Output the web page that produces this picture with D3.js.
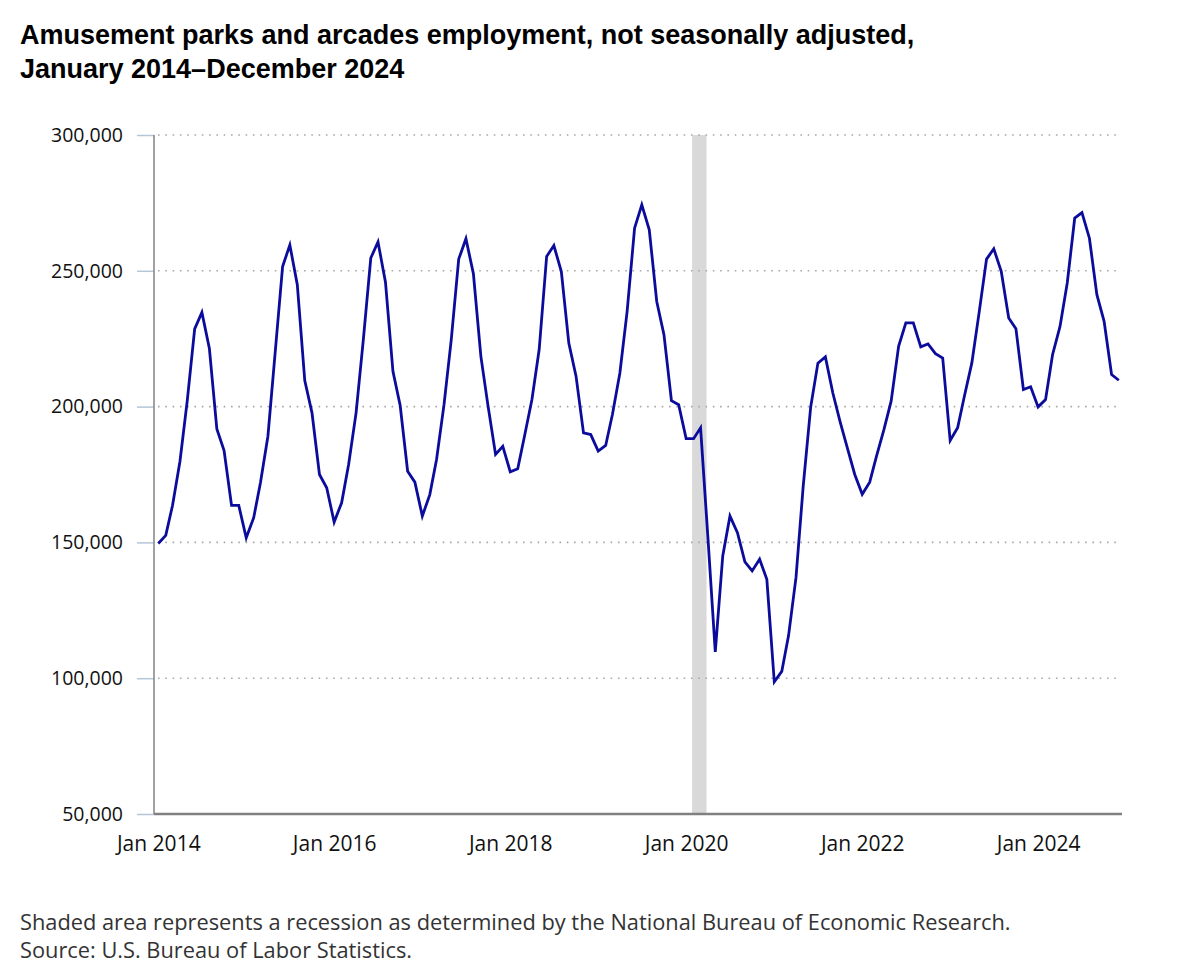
<!DOCTYPE html>
<html>
<head>
<meta charset="utf-8">
<script src="https://cdn.jsdelivr.net/npm/d3@7"></script>
<style>
  html, body { margin: 0; padding: 0; background: #fff; }
  svg { display: block; }
</style>
</head>
<body>
<svg id="chart" width="1200" height="968"></svg>
<script>
// ---- Data (thousands of jobs, monthly, Jan 2014 – Dec 2024) ----
const startYear = 2014;
const values2014 = [149.6, 152.6, 163.6, 179.9, 202.0, 228.6, 234.7, 221.4, 191.8, 183.8, 163.6, 163.6];
const values2015 = [151.7, 159.1, 172.0, 189.1, 219.8, 251.6, 259.5, 244.9, 209.6, 197.7, 175.0, 170.1];
const values2016 = [157.5, 164.6, 178.7, 197.7, 224.6, 254.7, 260.6, 245.8, 213.0, 200.4, 176.2, 172.2];
const values2017 = [159.7, 167.6, 180.5, 200.7, 224.6, 254.3, 261.8, 248.9, 218.5, 200.1, 182.4, 185.4];
const values2018 = [176.0, 177.1, 189.1, 202.6, 221.0, 255.3, 259.3, 249.7, 223.4, 211.2, 190.3, 189.7];
const values2019 = [183.6, 185.7, 197.1, 212.4, 235.0, 265.7, 274.3, 265.1, 238.7, 226.5, 202.2, 200.7];
const values2020 = [188.2, 188.2, 192.2, 151.0, 109.7, 145.0, 159.7, 153.6, 142.8, 139.5, 143.8, 136.4];
const values2021 = [98.7, 102.5, 115.6, 137.0, 170.7, 199.8, 216.0, 218.3, 205.0, 194.5, 184.5, 175.0];
const values2022 = [167.7, 172.2, 181.7, 191.5, 202.0, 222.2, 230.8, 230.8, 222.0, 223.1, 219.5, 217.9];
const values2023 = [187.5, 192.2, 203.8, 216.1, 234.5, 254.3, 258.1, 249.8, 232.6, 228.7, 206.3, 207.3];
const values2024 = [199.9, 202.6, 219.1, 229.5, 245.5, 269.4, 271.4, 262.0, 241.2, 231.4, 211.8, 209.7];

const yTicks = [50000, 100000, 150000, 200000, 250000, 300000];
const xTickYears = [2014, 2016, 2018, 2020, 2022, 2024];
const recession = [new Date(2020, 1, 1), new Date(2020, 3, 1)];

const titleLines = [
  "Amusement parks and arcades employment, not seasonally adjusted,",
  "January 2014\u2013December 2024"
];
const noteLines = [
  "Shaded area represents a recession as determined by the National Bureau of Economic Research.",
  "Source: U.S. Bureau of Labor Statistics."
];

// ---- Build series ----
const allYears = [values2014, values2015, values2016, values2017, values2018, values2019,
                  values2020, values2021, values2022, values2023, values2024];
const series = [];
allYears.forEach((arr, yi) => {
  arr.forEach((v, m) => series.push({ date: new Date(startYear + yi, m, 1), value: v * 1000 }));
});

// ---- Layout ----
const svg = d3.select("#chart");
const axisX = 154, plotRight = 1121, plotTop = 135, plotBottom = 814;

const x = d3.scaleTime()
  .domain([new Date(2014, 0, 1), new Date(2024, 11, 1)])
  .range([158.3, 1118.8]);
const y = d3.scaleLinear().domain([50000, 300000]).range([plotBottom, plotTop]);

// Title
svg.append("g").selectAll("text").data(titleLines).join("text")
  .attr("x", 20).attr("y", (d, i) => 44 + i * 34)
  .attr("font-family", "Liberation Sans, Arial, sans-serif")
  .attr("font-weight", "bold").attr("font-size", 27).attr("fill", "#000")
  .text(d => d);

// Recession shading
svg.append("rect")
  .attr("x", x(recession[0]) - 1.5)
  .attr("y", plotTop)
  .attr("width", x(recession[1]) - x(recession[0]))
  .attr("height", plotBottom - plotTop)
  .attr("fill", "#d9d9d9");

// Gridlines (dotted)
svg.append("g").selectAll("line").data(yTicks.filter(t => t > 50000)).join("line")
  .attr("x1", axisX + 4).attr("x2", plotRight)
  .attr("y1", d => y(d)).attr("y2", d => y(d))
  .attr("stroke", "#a8a8a8").attr("stroke-width", 1.6)
  .attr("stroke-dasharray", "1.6,5.7");

// Y axis ticks & labels
const yAxis = d3.axisLeft(y).tickValues(yTicks).tickSize(17).tickPadding(14)
  .tickFormat(d3.format(","));
const gy = svg.append("g").attr("transform", `translate(${axisX},0)`).call(yAxis);
gy.select(".domain").remove();
gy.selectAll(".tick line").attr("stroke", "#b4c6d8").attr("stroke-width", 1.5);
gy.selectAll(".tick text")
  .attr("font-family", "Open Sans, sans-serif").attr("font-size", 19.5)
  .attr("fill", "#111");

// Left axis line
svg.append("line")
  .attr("x1", axisX).attr("x2", axisX).attr("y1", plotTop).attr("y2", plotBottom)
  .attr("stroke", "#8a8a8a").attr("stroke-width", 1.6);

// X axis
const xAxis = d3.axisBottom(x)
  .tickValues(xTickYears.map(yr => new Date(yr, 0, 1)))
  .tickSize(0).tickPadding(22)
  .tickFormat(d3.timeFormat("Jan %Y"));
const gx = svg.append("g").attr("transform", `translate(0,${plotBottom})`).call(xAxis);
gx.select(".domain").remove();
gx.selectAll(".tick text")
  .attr("font-family", "Open Sans, sans-serif").attr("font-size", 21)
  .attr("fill", "#111");

svg.append("line")
  .attr("x1", axisX).attr("x2", plotRight + 1).attr("y1", plotBottom).attr("y2", plotBottom)
  .attr("stroke", "#808080").attr("stroke-width", 2.6);

// Data line
const line = d3.line().x(d => x(d.date)).y(d => y(d.value));
svg.append("path").datum(series)
  .attr("d", line)
  .attr("fill", "none")
  .attr("stroke", "#0c0c9c")
  .attr("stroke-width", 2.8)
  .attr("stroke-linejoin", "miter");

// Notes
svg.append("g").selectAll("text").data(noteLines).join("text")
  .attr("x", 20).attr("y", (d, i) => 930 + i * 28)
  .attr("font-family", "Open Sans, sans-serif").attr("font-size", 21.8)
  .attr("fill", "#333")
  .text(d => d);
</script>
</body>
</html>
